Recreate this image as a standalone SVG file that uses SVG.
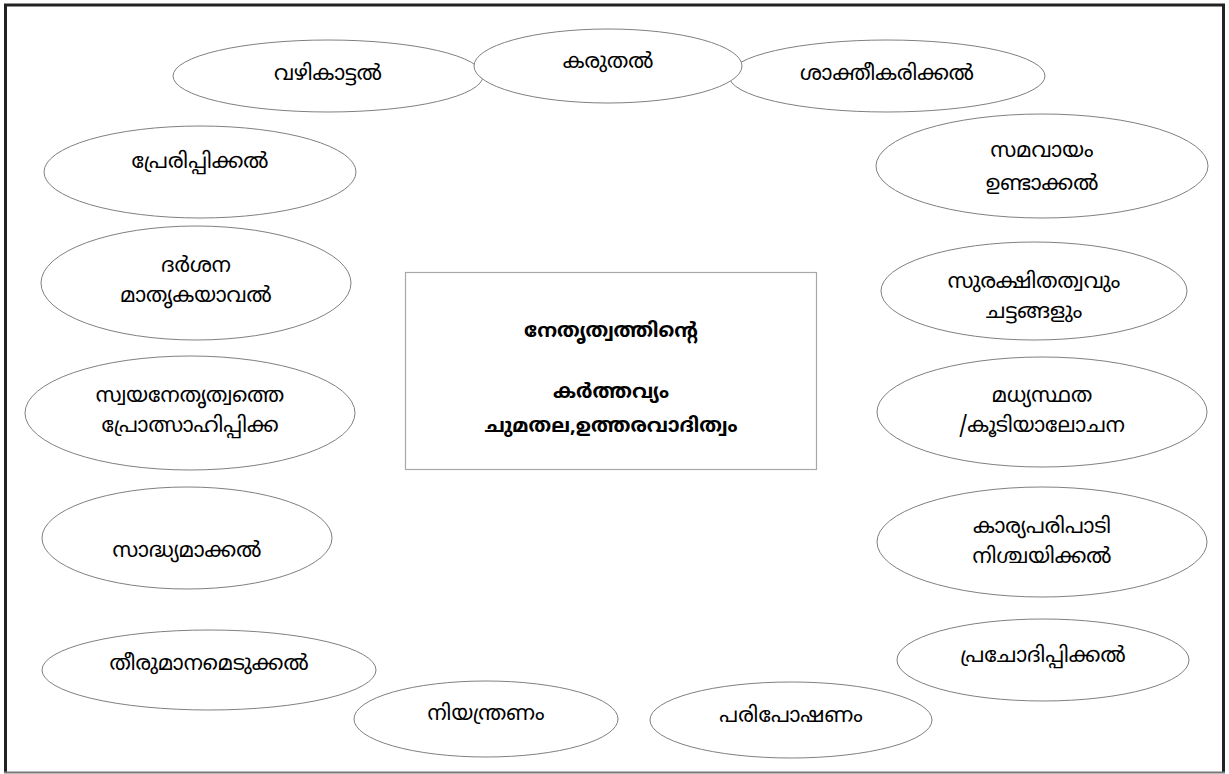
<svg xmlns="http://www.w3.org/2000/svg" width="1229" height="774" viewBox="0 0 1229 774">
<style>
  .bg { fill: #ffffff; }
  .frame { fill: none; stroke: #222222; stroke-width: 3; }
  .frame-b { fill: none; stroke: #777777; stroke-width: 2; }
  .oval { fill: #ffffff; stroke: #808080; stroke-width: 1; }
  .box { fill: #ffffff; stroke: #a8a8a8; stroke-width: 1.2; }
  text { font-family: "Noto Sans Malayalam", "Noto Sans", "DejaVu Sans", sans-serif; fill: #000000; text-anchor: middle; }
  .t { font-size: 21px; }
  .tb { font-size: 20px; font-weight: bold; }
</style>
<rect class="bg" x="0" y="0" width="1229" height="774"/>
<path class="frame" d="M5.5,772 V5 H1223.5 V772"/>
<line class="frame-b" x1="4" y1="772.5" x2="1225" y2="772.5"/>
<g id="connectors"></g>
<g id="n-center">
  <rect class="box" x="405.5" y="272.5" width="411" height="197"/>
  <text class="tb" x="611" y="337">നേതൃത്വത്തിന്റെ</text>
  <text class="tb" x="611" y="398">കർത്തവ്യം</text>
  <text class="tb" x="611" y="432">ചുമതല,ഉത്തരവാദിത്വം</text>
</g>
<g id="n-vazhikattal">
  <ellipse class="oval" cx="328" cy="76" rx="155" ry="36"/>
  <text class="t" x="328" y="80">വഴികാട്ടൽ</text>
</g>
<g id="n-shakthikarikkal">
  <ellipse class="oval" cx="887" cy="76" rx="158" ry="36"/>
  <text class="t" x="887" y="80">ശാക്തീകരിക്കൽ</text>
</g>
<g id="n-karuthal">
  <ellipse class="oval" cx="608" cy="66" rx="134" ry="37"/>
  <text class="t" x="608" y="68">കരുതൽ</text>
</g>
<g id="n-prerippikkal">
  <ellipse class="oval" cx="200" cy="172" rx="156" ry="46"/>
  <text class="t" x="200" y="168">പ്രേരിപ്പിക്കൽ</text>
</g>
<g id="n-samavayam">
  <ellipse class="oval" cx="1042" cy="166" rx="166" ry="52"/>
  <text class="t" x="1042" y="157">സമവായം</text>
  <text class="t" x="1042" y="190">ഉണ്ടാക്കൽ</text>
</g>
<g id="n-darshana">
  <ellipse class="oval" cx="196" cy="283" rx="155" ry="57"/>
  <text class="t" x="196" y="272">ദർശന</text>
  <text class="t" x="196" y="302">മാതൃകയാവൽ</text>
</g>
<g id="n-surakshithathvam">
  <ellipse class="oval" cx="1034" cy="291" rx="153" ry="49"/>
  <text class="t" x="1034" y="288">സുരക്ഷിതത്വവും</text>
  <text class="t" x="1034" y="318">ചട്ടങ്ങളും</text>
</g>
<g id="n-swayanethruthvam">
  <ellipse class="oval" cx="190" cy="413" rx="165" ry="57"/>
  <text class="t" x="190" y="402">സ്വയനേതൃത്വത്തെ</text>
  <text class="t" x="190" y="432">പ്രോത്സാഹിപ്പിക്ക</text>
</g>
<g id="n-madhyasthatha">
  <ellipse class="oval" cx="1042" cy="412" rx="165" ry="55"/>
  <text class="t" x="1042" y="402">മധ്യസ്ഥത</text>
  <text class="t" x="1042" y="432">/കൂടിയാലോചന</text>
</g>
<g id="n-sadhyamakkal">
  <ellipse class="oval" cx="187" cy="538" rx="145" ry="51"/>
  <text class="t" x="187" y="557">സാദ്ധ്യമാക്കൽ</text>
</g>
<g id="n-karyaparipadi">
  <ellipse class="oval" cx="1042" cy="542" rx="165" ry="55"/>
  <text class="t" x="1042" y="533">കാര്യപരിപാടി</text>
  <text class="t" x="1042" y="563">നിശ്ചയിക്കൽ</text>
</g>
<g id="n-prachodippikkal">
  <ellipse class="oval" cx="1043" cy="660" rx="146" ry="41"/>
  <text class="t" x="1043" y="662">പ്രചോദിപ്പിക്കൽ</text>
</g>
<g id="n-theerumanam">
  <ellipse class="oval" cx="209" cy="670" rx="167" ry="40"/>
  <text class="t" x="209" y="670">തീരുമാനമെടുക്കൽ</text>
</g>
<g id="n-niyanthranam">
  <ellipse class="oval" cx="486" cy="719" rx="132" ry="38"/>
  <text class="t" x="486" y="720">നിയന്ത്രണം</text>
</g>
<g id="n-pariposhanam">
  <ellipse class="oval" cx="791" cy="720" rx="141" ry="38"/>
  <text class="t" x="791" y="722">പരിപോഷണം</text>
</g>
</svg>
